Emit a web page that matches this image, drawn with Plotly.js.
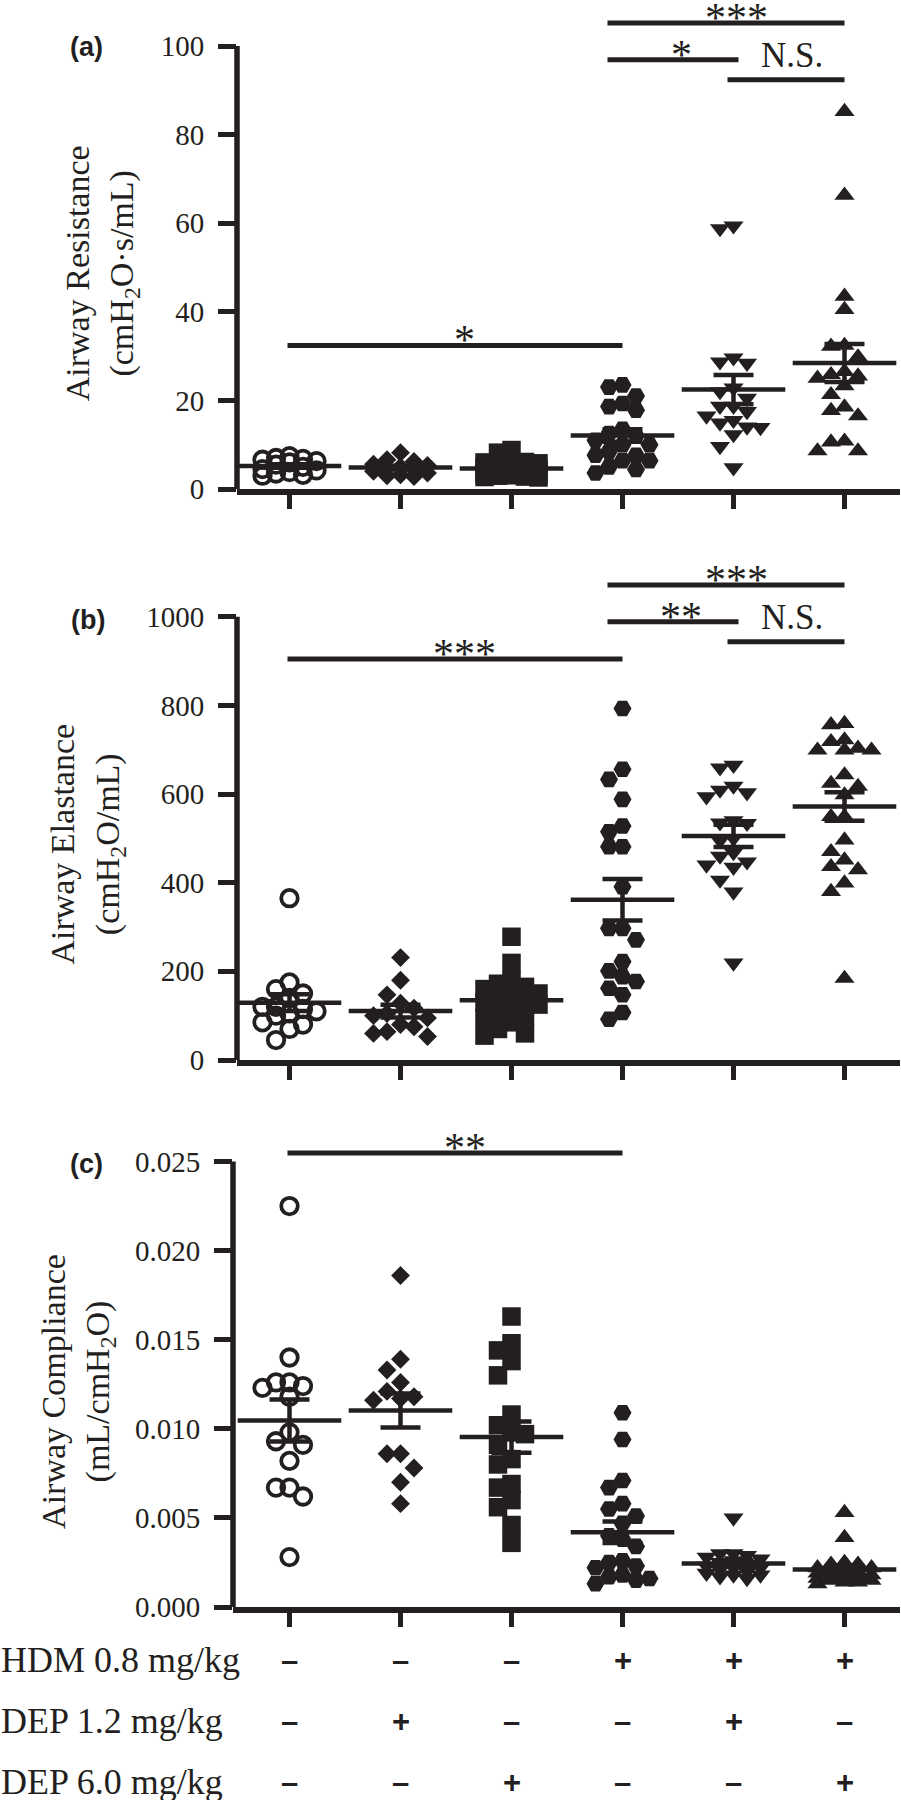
<!DOCTYPE html>
<html><head><meta charset="utf-8">
<script src="https://cdn.plot.ly/plotly-3.0.1.min.js"></script>
<style>html,body{margin:0;padding:0;background:#fff;}#chart{width:901px;height:1800px;}</style>
</head><body><div id="chart"></div>
<script>
// ---------------- DATA ----------------
const groups = [1, 2, 3, 4, 5, 6];
const rowLabels = ['HDM 0.8 mg/kg', 'DEP 1.2 mg/kg', 'DEP 6.0 mg/kg'];
const hdmSigns  = ['–', '–', '–', '+', '+', '+'];
const dep12Signs = ['–', '+', '–', '–', '+', '–'];
const dep60Signs = ['–', '–', '+', '–', '–', '+'];

// (a) Airway resistance (cmH2O·s/mL)
const resG1 = [7.4, 7.0, 6.8, 6.6, 6.3, 6.0, 5.5, 5.0, 4.5, 4.2, 3.8, 3.5, 3.2, 3.0];
const resG2 = [8.2, 6.6, 6.2, 5.6, 5.3, 5.0, 4.8, 4.5, 4.0, 3.6, 3.2, 3.0, 2.8];
const resG3 = [8.8, 8.2, 6.1, 6.0, 5.8, 5.5, 5.2, 5.0, 4.8, 4.5, 4.3, 4.0, 3.8, 3.5, 3.3, 3.1, 3.0, 2.8, 2.7, 2.6];
const resG4 = [23.5, 23.0, 21.0, 19.3, 18.6, 17.8, 13.5, 12.5, 12.0, 11.0, 10.0, 10.0, 8.5, 7.6, 7.6, 6.4, 6.4, 5.0, 4.4, 3.6];
const resG5 = [59.4, 58.8, 29.6, 28.7, 28.4, 22.8, 22.0, 20.5, 18.7, 18.7, 17.5, 16.5, 15.5, 14.9, 14.0, 13.9, 12.3, 9.6, 4.8];
const resG6 = [85.2, 66.3, 43.5, 40.5, 32.4, 32.2, 29.8, 26.5, 25.8, 25.5, 25.0, 23.3, 21.3, 18.5, 17.7, 16.5, 10.8, 10.6, 8.6, 8.6];

// (b) Airway elastance (cmH2O/mL)
const elaG1 = [365, 175, 160, 150, 140, 120, 120, 115, 110, 105, 100, 85, 80, 70, 45];
const elaG2 = [231, 180, 147, 128, 117, 105, 100, 95, 80, 75, 64, 60, 53];
const elaG3 = [278, 219, 180, 172, 165, 160, 150, 145, 140, 135, 130, 125, 120, 110, 100, 95, 85, 70, 60, 55];
const elaG4 = [793, 656, 633, 588, 528, 515, 481, 481, 391, 297, 297, 271, 222, 201, 188, 177, 162, 147, 107, 92];
const elaG5 = [665, 659, 618, 609, 603, 594, 540, 535, 534, 500, 495, 468, 460, 447, 440, 435, 406, 379, 219];
const elaG6 = [759, 756, 722, 718, 703, 699, 699, 699, 643, 624, 617, 598, 549, 549, 496, 470, 451, 436, 429, 399, 380, 184];

// (c) Airway compliance (mL/cmH2O)
const comG1 = [0.0225, 0.0140, 0.0126, 0.0126, 0.0124, 0.0123, 0.0118, 0.0098, 0.0093, 0.0091, 0.0082, 0.0067, 0.0067, 0.0062, 0.0028];
const comG2 = [0.0186, 0.0139, 0.0133, 0.0126, 0.0121, 0.0118, 0.0117, 0.0116, 0.0086, 0.0086, 0.0078, 0.0070, 0.0058];
const comG3 = [0.0163, 0.0148, 0.0144, 0.0138, 0.0130, 0.0108, 0.0102, 0.0098, 0.0097, 0.0091, 0.0083, 0.0080, 0.0069, 0.0067, 0.0060, 0.0056, 0.0046, 0.0036];
const comG4 = [0.0109, 0.0094, 0.0071, 0.0067, 0.0058, 0.0055, 0.0051, 0.0047, 0.0040, 0.0038, 0.0034, 0.0026, 0.0025, 0.0023, 0.0022, 0.0018, 0.0017, 0.0016, 0.0015, 0.0013];
const comG5 = [0.0050, 0.0030, 0.0030, 0.0029, 0.0028, 0.0027, 0.0026, 0.0025, 0.0024, 0.0023, 0.0022, 0.0022, 0.0021, 0.0020, 0.0019, 0.0018, 0.0018, 0.0017, 0.0016];
const comG6 = [0.0053, 0.0039, 0.0025, 0.0024, 0.0024, 0.0022, 0.0022, 0.0021, 0.0020, 0.0020, 0.0019, 0.0018, 0.0018, 0.0017, 0.0017, 0.0016, 0.0016, 0.0015, 0.0015, 0.0014, 0.0014, 0.0013];

// y ticks
const ticksA = [0, 20, 40, 60, 80, 100];
const ticksB = [0, 200, 400, 600, 800, 1000];
const ticksC = [0, 0.005, 0.010, 0.015, 0.020, 0.025];

// significance comparisons (group from, group to, bar height, label)
const sigAFrom = [1, 4, 4, 5], sigATo = [4, 6, 5, 6], sigAY = [32.4, 105.2, 96.9, 92.4], sigAText = ['*', '***', '*', 'N.S.'];
const sigBFrom = [1, 4, 4, 5], sigBTo = [4, 6, 5, 6], sigBY = [904.6, 1071.5, 988.7, 943.6], sigBText = ['***', '***', '**', 'N.S.'];
const sigCFrom = [1], sigCTo = [4], sigCY = [0.02547], sigCText = ['**'];

// ---------------- LAYOUT / STYLE ----------------
const W = 901, H = 1800;
const INK = '#231f20';
const SERIF = 'Liberation Serif, Times New Roman, serif';
const SANS = 'Liberation Sans, Arial, sans-serif';
const group1Px = 289.5, stepPx = 111, rightPx = 900;
const colStepPx = 13.5;

const panels = [
  { key: 'a', data: [resG1, resG2, resG3, resG4, resG5, resG6], ticks: ticksA, fmt: 'd',
    zeroPx: 489, topPx: 46, areaTopPx: 4, leftPx: 237,
    title: 'Airway Resistance<br>(cmH<sub>2</sub>O·s/mL)', titleX: 102, titleFrac: 0.487,
    label: '(a)', labelXY: [86.5, 47],
    sig: [sigAFrom, sigATo, sigAY, sigAText] },
  { key: 'b', data: [elaG1, elaG2, elaG3, elaG4, elaG5, elaG6], ticks: ticksB, fmt: 'd',
    zeroPx: 1060, topPx: 616.7, areaTopPx: 558, leftPx: 237,
    title: 'Airway Elastance<br>(cmH<sub>2</sub>O/mL)', titleX: 87.5, titleFrac: 0.487,
    label: '(b)', labelXY: [87.5, 619.5],
    sig: [sigBFrom, sigBTo, sigBY, sigBText] },
  { key: 'c', data: [comG1, comG2, comG3, comG4, comG5, comG6], ticks: ticksC, fmt: '.3f',
    zeroPx: 1607, topPx: 1161.5, areaTopPx: 1118, leftPx: 233,
    title: 'Airway Compliance<br>(mL/cmH<sub>2</sub>O)', titleX: 78.5, titleFrac: 0.484,
    label: '(c)', labelXY: [86.5, 1163.5],
    sig: [sigCFrom, sigCTo, sigCY, sigCText] }
];

const symbols = [
  { symbol: 'circle-open', size: 16.5, lw: 3.8, minDy: 14 },
  { symbol: 'diamond', size: 14.5, lw: 0, minDy: 15 },
  { symbol: 'square', size: 18.5, lw: 0, minDy: 15 },
  { symbol: 'hexagon2', size: 18, lw: 0, minDy: 14 },
  { symbol: 'triangle-down', size: 17.5, lw: 0, minDy: 13 },
  { symbol: 'triangle-up', size: 17.5, lw: 0, minDy: 13 }
];

function mean(a) { return a.reduce((s, v) => s + v, 0) / a.length; }
function sem(a) {
  const m = mean(a);
  const sd = Math.sqrt(a.reduce((s, v) => s + (v - m) * (v - m), 0) / (a.length - 1));
  return sd / Math.sqrt(a.length);
}
// simple column beeswarm (GraphPad-like)
function swarm(vals, pxPerUnit, minDy) {
  const idx = vals.map((v, i) => i).sort((a, b) => vals[b] - vals[a]);
  const order = [0, -1, 1, -2, 2];
  const last = {};
  const cols = new Array(vals.length);
  idx.forEach(i => {
    const y = vals[i] * pxPerUnit;
    let best = null, bestGap = -1;
    for (const c of order) {
      const gap = (c in last) ? Math.abs(last[c] - y) : Infinity;
      if (gap >= minDy) { best = c; break; }
      if (gap > bestGap) { bestGap = gap; best = c; }
    }
    cols[i] = best; last[best] = y;
  });
  return cols;
}

const traces = [];
const shapes = [];
const annotations = [];
const layout = {
  width: W, height: H, autosize: false, showlegend: false,
  margin: { l: 0, r: 0, t: 0, b: 0, pad: 0 },
  paper_bgcolor: '#ffffff', plot_bgcolor: 'rgba(0,0,0,0)',
  font: { family: SERIF, color: INK },
  shapes: shapes, annotations: annotations
};

panels.forEach((p, pi) => {
  const n = pi === 0 ? '' : String(pi + 1);
  const xa = 'x' + n, ya = 'y' + n;
  const topVal = p.ticks[p.ticks.length - 1];
  const pxPerUnit = (p.zeroPx - p.topPx) / topVal;
  const rangeTop = (p.zeroPx - p.areaTopPx) / pxPerUnit;
  const xLeft = 1 - (group1Px - p.leftPx) / stepPx;
  const xRight = 1 + (rightPx - group1Px) / stepPx;
  const colStep = colStepPx / stepPx;

  layout['xaxis' + n] = {
    domain: [p.leftPx / W, rightPx / W], range: [xLeft, xRight], anchor: ya,
    showline: true, linewidth: 5.5, linecolor: INK,
    ticks: 'outside', ticklen: 14, tickwidth: 5, tickcolor: INK,
    tickvals: groups, showticklabels: false, showgrid: false, zeroline: false, fixedrange: true
  };
  layout['yaxis' + n] = {
    domain: [1 - p.zeroPx / H, 1 - p.areaTopPx / H], range: [0, rangeTop], anchor: xa,
    showline: false, ticks: 'outside', ticklen: 18, tickwidth: 5, tickcolor: INK,
    tickvals: p.ticks, tickformat: p.fmt, ticklabelstandoff: 8,
    tickfont: { family: SERIF, size: 29, color: INK },
    showgrid: false, zeroline: false, fixedrange: true
  };
  // y axis line (0 .. top tick only)
  shapes.push({ type: 'line', xref: xa + ' domain', yref: ya + ' domain',
    x0: 0, x1: 0, y0: 0, y1: topVal / rangeTop, line: { color: INK, width: 5.5 } });

  // points
  p.data.forEach((vals, gi) => {
    const s = symbols[gi];
    const cols = swarm(vals, pxPerUnit, s.minDy);
    traces.push({
      type: 'scatter', mode: 'markers', xaxis: xa, yaxis: ya, cliponaxis: false,
      x: vals.map((v, i) => groups[gi] + cols[i] * colStep), y: vals,
      marker: { symbol: s.symbol, size: s.size, color: INK,
        line: { color: INK, width: s.lw } },
      hoverinfo: 'skip'
    });
  });
  // mean ± SEM
  p.data.forEach((vals, gi) => {
    traces.push({
      type: 'scatter', mode: 'markers', xaxis: xa, yaxis: ya, cliponaxis: false,
      x: [groups[gi]], y: [mean(vals)],
      marker: { symbol: 'line-ew', size: 74, color: INK, line: { color: INK, width: 4.5 } },
      error_y: { type: 'data', array: [sem(vals)], visible: true, color: INK, thickness: 4.5, width: 20 },
      hoverinfo: 'skip'
    });
  });

  // significance bars
  const [from, to, ys, txt] = p.sig;
  from.forEach((g0, k) => {
    const g1 = to[k];
    const padL = (g0 === 4 ? 15 : (g0 === 5 ? 6 : 2)) / stepPx;
    const padR = (g1 === 5 ? 5 : 0) / stepPx;
    shapes.push({ type: 'line', xref: xa, yref: ya,
      x0: g0 - padL, x1: g1 + padR, y0: ys[k], y1: ys[k], line: { color: INK, width: 5 } });
    const isNS = txt[k] === 'N.S.';
    annotations.push({ xref: xa, yref: ya, x: (g0 + g1) / 2 + (g0 === 1 ? 0.08 : 0.03), y: ys[k],
      text: txt[k], showarrow: false, xanchor: 'center',
      yanchor: isNS ? 'bottom' : 'middle', yshift: isNS ? 3 : 5,
      font: { family: SERIF, size: isNS ? 35 : 42, color: INK } });
  });

  // axis title
  annotations.push({ xref: 'paper', yref: ya, x: p.titleX / W, y: topVal * p.titleFrac,
    text: p.title, textangle: -90, showarrow: false, xanchor: 'center', yanchor: 'middle',
    font: { family: SERIF, size: 34, color: INK } });
  // panel letter
  annotations.push({ xref: 'paper', yref: 'paper', x: p.labelXY[0] / W, y: 1 - p.labelXY[1] / H,
    text: '<b>' + p.label + '</b>', showarrow: false, xanchor: 'center', yanchor: 'middle',
    font: { family: SANS, size: 27, color: INK } });
});

// treatment table under panel (c)
const rowY = [1660, 1721, 1782];
const signRows = [hdmSigns, dep12Signs, dep60Signs];
rowLabels.forEach((lab, r) => {
  annotations.push({ xref: 'paper', yref: 'paper', x: 0, y: 1 - rowY[r] / H, text: lab,
    showarrow: false, xanchor: 'left', yanchor: 'middle', borderpad: 0,
    font: { family: SERIF, size: 36, color: INK } });
  signRows[r].forEach((s, gi) => {
    annotations.push({ xref: 'x3', yref: 'paper', x: groups[gi], y: 1 - rowY[r] / H,
      text: '<b>' + s + '</b>', showarrow: false, xanchor: 'center', yanchor: 'middle',
      font: { family: SANS, size: 31, color: INK } });
  });
});

Plotly.newPlot('chart', traces, layout, { staticPlot: true, displayModeBar: false });
</script>
</body></html>
